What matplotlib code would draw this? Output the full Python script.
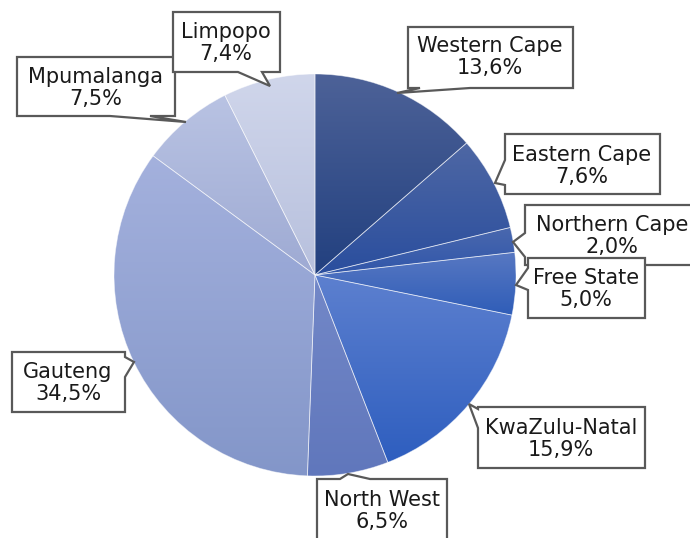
import numpy as np
import matplotlib.pyplot as plt
from matplotlib.colors import to_rgb
from matplotlib.patches import Polygon

# data
provinces = ['Western Cape', 'Eastern Cape', 'Northern Cape', 'Free State', 'KwaZulu-Natal',
             'North West', 'Gauteng', 'Mpumalanga', 'Limpopo']
shares = [13.6, 7.6, 2.0, 5.0, 15.9, 6.5, 34.5, 7.5, 7.4]
share_labels = ['13,6%', '7,6%', '2,0%', '5,0%', '15,9%', '6,5%', '34,5%', '7,5%', '7,4%']

# gradient colours per slice (top, bottom)
grad_top = ['#4d6298', '#4e67a4', '#4a68ae', '#5878c2', '#5d80cf', '#7388c8', '#a4b1dd', '#b9c3e3', '#d0d6eb']
grad_bot = ['#22407f', '#2a4e9e', '#3056aa', '#2f5db8', '#2e5ebf', '#6077bc', '#8396c9', '#9eaad3', '#b7c0dd']

W, H = 690, 538
cx, cy, R = 315, 275, 201

fig = plt.figure(figsize=(6.9, 5.38), dpi=100)
ax = fig.add_axes([0, 0, 1, 1])

wedges, _ = ax.pie(shares, center=(cx, H - cy), radius=R, startangle=90, counterclock=False,
                   wedgeprops=dict(edgecolor=(1, 1, 1, 0.5), linewidth=0.6))

for i, w in enumerate(wedges):
    ext = w.get_path().get_extents()
    top, bot = np.array(to_rgb(grad_top[i])), np.array(to_rgb(grad_bot[i]))
    t = np.linspace(0, 1, 256)[:, None, None]
    img = bot + (top - bot) * t
    img = np.repeat(img, 2, axis=1)
    im = ax.imshow(img, extent=(ext.x0, ext.x1, ext.y0, ext.y1), origin='lower',
                   interpolation='bilinear', aspect='auto', zorder=1)
    im.set_clip_path(w)
    w.set_facecolor('none')
    w.set_zorder(2)


def callout(x0, y0, x1, y1, side, a, b, tip, text, tx, ty, z):
    # box in image pixel coords (y down), pointer inserted on one side
    pts = [(x0, y0)]
    if side == 'top':
        pts += [(a, y0), tip, (b, y0)]
    pts += [(x1, y0)]
    if side == 'right':
        pts += [(x1, a), tip, (x1, b)]
    pts += [(x1, y1)]
    if side == 'bottom':
        pts += [(b, y1), tip, (a, y1)]
    pts += [(x0, y1)]
    if side == 'left':
        pts += [(x0, b), tip, (x0, a)]
    pts = [(px, H - py) for px, py in pts]
    ax.add_patch(Polygon(pts, closed=True, facecolor='white', edgecolor='#595959',
                         linewidth=1.6, zorder=z, joinstyle='miter'))
    ax.text(tx, H - ty, text, ha='center', va='center', fontsize=15, color='#1a1a1a',
            linespacing=1.12, zorder=z + 0.5)


boxes = {
    'Western Cape': (408, 27, 573, 88, 'bottom', 420, 470, (397, 93), 490, 57),
    'Eastern Cape': (505, 134, 660, 194, 'left', 160, 185, (495, 183), 582, 166),
    'Northern Cape': (525, 205, 700, 265, 'left', 233, 257, (513, 242), 612, 236),
    'Free State': (528, 258, 645, 318, 'left', 268, 290, (516, 285), 586, 289),
    'KwaZulu-Natal': (478, 407, 645, 468, 'left', 409, 428, (469, 404), 561, 439),
    'North West': (317, 479, 447, 560, 'top', 340, 370, (348, 474), 382, 511),
    'Gauteng': (12, 352, 125, 412, 'right', 357, 377, (134, 362), 68, 383),
    'Mpumalanga': (17, 57, 175, 116, 'bottom', 110, 150, (186, 122), 96, 88),
    'Limpopo': (173, 12, 280, 72, 'bottom', 238, 262, (270, 86), 226, 43),
}

for k, name in enumerate(provinces):
    x0, y0, x1, y1, side, a, b, tip, tx, ty = boxes[name]
    callout(x0, y0, x1, y1, side, a, b, tip, name + '\n' + share_labels[k], tx, ty, 5 + k)

ax.set_xlim(0, W)
ax.set_ylim(0, H)
ax.set_aspect('auto')
ax.axis('off')

fig.savefig('out.png', dpi=100)
